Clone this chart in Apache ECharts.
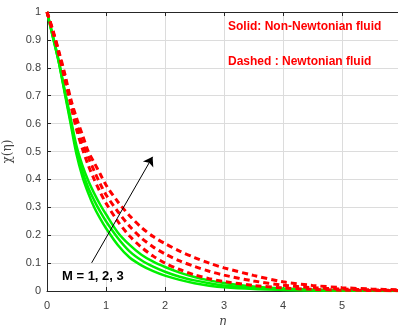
<!DOCTYPE html>
<html><head><meta charset="utf-8">
<script src="https://cdn.jsdelivr.net/npm/echarts@6/dist/echarts.min.js"></script>
<style>html,body{margin:0;padding:0;background:#fff}#c{width:398px;height:325px}</style>
</head><body><div id="c"></div>
<script>
const eta = [0, 0.1, 0.2, 0.3, 0.4, 0.5, 0.6, 0.7, 0.8, 0.9, 1.0, 1.2, 1.4, 1.6, 1.8, 2.0, 2.25, 2.5, 2.75, 3.0, 3.5, 4.0, 4.5, 5.0, 5.5, 6.0];
// Non-Newtonian (solid), M = 1, 2, 3
const solidM1 = [1, 0.91, 0.82, 0.71, 0.60, 0.49, 0.41, 0.35, 0.30, 0.26, 0.225, 0.165, 0.12, 0.092, 0.071, 0.055, 0.04, 0.028, 0.019, 0.013, 0.007, 0.004, 0.002, 0.001, 0.0005, 0.0003];
const solidM2 = [1, 0.91, 0.82, 0.715, 0.61, 0.505, 0.43, 0.37, 0.325, 0.285, 0.25, 0.19, 0.142, 0.11, 0.087, 0.069, 0.051, 0.038, 0.028, 0.02, 0.01, 0.005, 0.003, 0.0015, 0.001, 0.0005];
const solidM3 = [1, 0.915, 0.825, 0.72, 0.62, 0.52, 0.45, 0.395, 0.35, 0.31, 0.275, 0.21, 0.165, 0.13, 0.105, 0.086, 0.066, 0.05, 0.038, 0.029, 0.016, 0.009, 0.005, 0.003, 0.002, 0.001];
// Newtonian (dashed), M = 1, 2, 3
const dashM1 = [1, 0.93, 0.85, 0.76, 0.67, 0.58, 0.51, 0.45, 0.40, 0.355, 0.315, 0.25, 0.197, 0.157, 0.125, 0.10, 0.077, 0.058, 0.044, 0.034, 0.02, 0.011, 0.006, 0.003, 0.002, 0.001];
const dashM2 = [1, 0.93, 0.855, 0.77, 0.68, 0.60, 0.53, 0.48, 0.43, 0.385, 0.345, 0.285, 0.232, 0.19, 0.158, 0.133, 0.108, 0.088, 0.071, 0.057, 0.036, 0.021, 0.012, 0.007, 0.004, 0.002];
const dashM3 = [1, 0.935, 0.86, 0.78, 0.69, 0.62, 0.56, 0.50, 0.46, 0.42, 0.38, 0.32, 0.27, 0.228, 0.195, 0.17, 0.143, 0.12, 0.1, 0.083, 0.056, 0.033, 0.02, 0.012, 0.007, 0.004];
const xTicks = [0, 1, 2, 3, 4, 5];
const arrowFrom = [0.757, 0.101];
const arrowTo = [1.79, 0.481];
const labelM = 'M = 1, 2, 3';
const labelSolid = 'Solid: Non-Newtonian fluid';
const labelDashed = 'Dashed : Newtonian fluid';

const pair = arr => eta.map((x, i) => [x, arr[i]]);
const solid = (d) => ({type:'line', data: pair(d), smooth: 0.3, symbol:'none', clip:true,
  lineStyle:{color:'#00f000', width:2.5}, z:3});
const dashed = (d) => ({type:'line', data: pair(d), smooth: 0.3, symbol:'none', clip:true,
  lineStyle:{color:'#ff0000', width:3, type:[6,4]}, z:4});

const chart = echarts.init(document.getElementById('c'), null, {renderer:'canvas'});
const axisCol = '#262626';
chart.setOption({
  animation:false,
  grid:{left:47, top:12, width:351, height:279, containLabel:false, outerBoundsMode:'none'},
  xAxis:[{type:'value', min:0, max:5.95, interval:1,
    name:'η', nameLocation:'middle', nameGap:22,
    nameTextStyle:{fontFamily:'DejaVu Serif', fontStyle:'italic', fontSize:12, color:'#444'},
    axisLine:{lineStyle:{color:axisCol, width:1}}, axisTick:{inside:true, length:4, lineStyle:{color:axisCol}},
    axisLabel:{color:'#404040', fontSize:11, fontFamily:'Liberation Sans', margin:9,
      formatter:v => xTicks.includes(v) ? String(v) : ''},
    splitLine:{show:true, lineStyle:{color:'#dcdcdc', width:1}}},
   {type:'value', position:'top', min:0, max:5.95, interval:1,
    axisLine:{show:true, lineStyle:{color:axisCol}}, axisTick:{inside:true, length:4, lineStyle:{color:axisCol}},
    axisLabel:{show:false}, splitLine:{show:false}}],
  yAxis:{type:'value', min:0, max:1, interval:0.1,
    name:'χ(η)', nameLocation:'middle', nameGap:33, nameRotate:90,
    nameTextStyle:{fontFamily:'DejaVu Serif', fontSize:12, color:'#444'},
    axisLine:{show:true, lineStyle:{color:axisCol}}, axisTick:{show:true, inside:true, length:4, lineStyle:{color:axisCol}},
    axisLabel:{color:'#404040', fontSize:11, fontFamily:'Liberation Sans', margin:6,
      formatter:v => String(Math.round(v*10)/10)},
    splitLine:{show:true, lineStyle:{color:'#dcdcdc', width:1}}},
  series:[
    solid(solidM1), solid(solidM2), solid(solidM3),
    dashed(dashM1), dashed(dashM2), dashed(dashM3),
    {type:'lines', coordinateSystem:'cartesian2d', polyline:false, z:6,
     symbol:['none','arrow'], symbolSize:[0,9],
     lineStyle:{color:'#000', width:1, opacity:1},
     data:[{coords:[arrowFrom, arrowTo]}]}
  ],
  graphic:[
    {type:'text', left:62, top:270, style:{text:labelM, font:'bold 13px "Liberation Sans"', fill:'#000'}, z:10},
    {type:'text', left:228, top:21, style:{text:labelSolid, font:'bold 12px "Liberation Sans"', fill:'#ff0000'}, z:10},
    {type:'text', left:228, top:56, style:{text:labelDashed, font:'bold 12px "Liberation Sans"', fill:'#ff0000'}, z:10}
  ]
});
</script></body></html>
